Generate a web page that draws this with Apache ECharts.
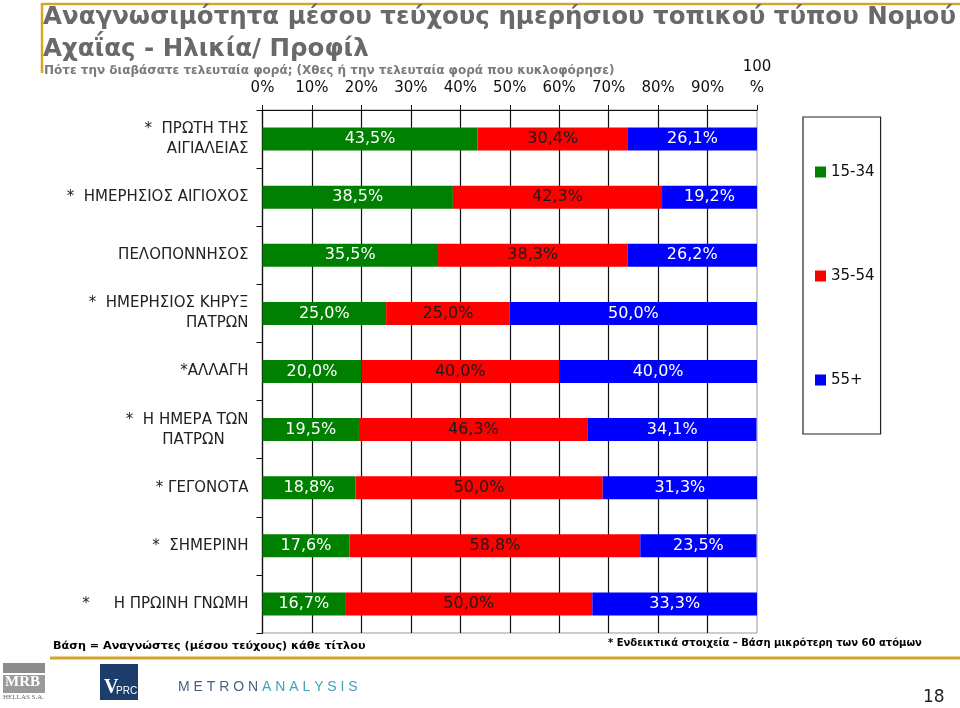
<!DOCTYPE html>
<html>
<head>
<meta charset="utf-8">
<script src="https://cdn.jsdelivr.net/npm/echarts@6/dist/echarts.min.js"></script>
<style>
  html, body { margin: 0; padding: 0; background: #fff; }
  #chart { width: 960px; height: 708px; }
</style>
</head>
<body>
<div id="chart"></div>
<script>
// ---- data ----
var categories = [
  '*  ΠΡΩΤΗ ΤΗΣ\nΑΙΓΙΑΛΕΙΑΣ',
  '*  ΗΜΕΡΗΣΙΟΣ ΑΙΓΙΟΧΟΣ',
  'ΠΕΛΟΠΟΝΝΗΣΟΣ',
  '*  ΗΜΕΡΗΣΙΟΣ ΚΗΡΥΞ\nΠΑΤΡΩΝ',
  '*ΑΛΛΑΓΗ',
  '*  Η ΗΜΕΡΑ ΤΩΝ\nΠΑΤΡΩΝ\u00a0\u00a0\u00a0\u00a0\u00a0',
  '* ΓΕΓΟΝΟΤΑ',
  '*  ΣΗΜΕΡΙΝΗ',
  '*     Η ΠΡΩΙΝΗ ΓΝΩΜΗ'
];
var seriesNames = ['15-34', '35-54', '55+'];
var age15_34 = [43.5, 38.5, 35.5, 25.0, 20.0, 19.5, 18.8, 17.6, 16.7];
var age35_54 = [30.4, 42.3, 38.3, 25.0, 40.0, 46.3, 50.0, 58.8, 50.0];
var age55plus = [26.1, 19.2, 26.2, 50.0, 40.0, 34.1, 31.3, 23.5, 33.3];
var xTickLabels = ['0%', '10%', '20%', '30%', '40%', '50%', '60%', '70%', '80%', '90%', '100\n%'];

var FONT = 'DejaVu Sans, Verdana, sans-serif';
var GOLD = '#D2A62C';

function fmt(p) { return p.value.toFixed(1).replace('.', ',') + '%'; }

function barSeries(name, data, color, labelColor) {
  return {
    name: name,
    type: 'bar',
    stack: 'total',
    data: data,
    barWidth: 23,
    itemStyle: { color: color },
    label: {
      show: true,
      position: 'inside',
      formatter: fmt,
      color: labelColor,
      fontFamily: FONT,
      fontSize: 16
    }
  };
}

var chart = echarts.init(document.getElementById('chart'));
chart.setOption({
  animation: false,
  backgroundColor: '#fff',
  grid: {
    left: 262.5, right: 203, top: 110, bottom: 75,
    show: true, borderColor: '#999', borderWidth: 1
  },
  legend: {
    orient: 'vertical',
    left: 803, top: 117,
    padding: [47, 6, 46, 12],
    itemGap: 88,
    itemWidth: 11, itemHeight: 11,
    icon: 'rect',
    borderColor: '#222', borderWidth: 1.2,
    data: seriesNames,
    textStyle: { fontFamily: FONT, fontSize: 15, color: '#111', lineHeight: 16 }
  },
  xAxis: {
    type: 'value',
    position: 'top',
    min: 0, max: 100, interval: 10,
    axisLine: { show: true, lineStyle: { color: '#111', width: 1 } },
    axisTick: { show: true, length: 5, lineStyle: { color: '#111' } },
    splitLine: { show: true, showMaxLine: false, lineStyle: { color: '#111', width: 1.2 } },
    axisLabel: {
      margin: 11,
      fontFamily: FONT, fontSize: 15, color: '#111', lineHeight: 21,
      formatter: function (v) { return xTickLabels[Math.round(v / 10)]; }
    }
  },
  yAxis: {
    type: 'category',
    inverse: true,
    data: categories,
    axisLine: { show: true, lineStyle: { color: '#111', width: 1.2 } },
    axisTick: { show: true, length: 6, lineStyle: { color: '#111' } },
    axisLabel: {
      margin: 14,
      fontFamily: FONT, fontSize: 15, color: '#222', lineHeight: 20, align: 'right'
    }
  },
  series: [
    barSeries(seriesNames[0], age15_34, '#008000', '#ffffff'),
    barSeries(seriesNames[1], age35_54, '#ff0000', '#1a1a1a'),
    barSeries(seriesNames[2], age55plus, '#0000ff', '#ffffff')
  ],
  graphic: [
    // gold frame lines
    { type: 'line', shape: { x1: 42, y1: 4, x2: 960, y2: 4 }, style: { stroke: GOLD, lineWidth: 2.5 } },
    { type: 'line', shape: { x1: 42, y1: 3, x2: 42, y2: 73 }, style: { stroke: GOLD, lineWidth: 2.5 } },
    { type: 'line', shape: { x1: 50, y1: 658, x2: 960, y2: 658 }, style: { stroke: GOLD, lineWidth: 3 } },
    // titles
    { type: 'text', left: 43, top: 5, style: { text: 'Αναγνωσιμότητα μέσου τεύχους ημερήσιου τοπικού τύπου Νομού', font: 'bold 24.5px ' + FONT, fill: '#696969' } },
    { type: 'text', left: 43, top: 37, style: { text: 'Αχαΐας - Ηλικία/ Προφίλ', font: 'bold 24.5px ' + FONT, fill: '#696969' } },
    { type: 'text', left: 44, top: 65, style: { text: 'Πότε την διαβάσατε τελευταία φορά; (Χθες ή την τελευταία φορά που κυκλοφόρησε)', font: 'bold 12px ' + FONT, fill: '#7a7a7a' } },
    // footnotes
    { type: 'text', left: 53, top: 641, style: { text: 'Βάση = Αναγνώστες (μέσου τεύχους) κάθε τίτλου', font: 'bold 11.2px ' + FONT, fill: '#000' } },
    { type: 'text', left: 608, top: 638, style: { text: '* Ενδεικτικά στοιχεία – Βάση μικρότερη των 60 ατόμων', font: 'bold 10px ' + FONT, fill: '#000' } },
    { type: 'text', left: 923, top: 689, style: { text: '18', font: '17px ' + FONT, fill: '#222' } },
    // MRB logo
    { type: 'rect', shape: { x: 3, y: 663, width: 42, height: 10 }, style: { fill: '#8c8c8c' } },
    { type: 'rect', shape: { x: 3, y: 675, width: 42, height: 18 }, style: { fill: '#9a9a9a' } },
    { type: 'text', left: 5, top: 675, style: { text: 'MRB', font: 'bold 15px Liberation Serif, serif', fill: '#ffffff' } },
    { type: 'text', left: 3, top: 694, style: { text: 'HELLAS S.A.', font: '7px Liberation Serif, serif', fill: '#666' } },
    // VPRC logo
    { type: 'rect', shape: { x: 100, y: 664, width: 38, height: 36 }, style: { fill: '#1d3d6b' } },
    { type: 'text', left: 104, top: 678, style: { text: 'V', font: 'bold 20px Liberation Serif, serif', fill: '#ffffff' } },
    { type: 'text', left: 116, top: 686, style: { text: 'PRC', font: '10px Liberation Sans, sans-serif', fill: '#ffffff' } },
    // METRONANALYSIS
    { type: 'text', left: 178, top: 680, style: {
        rich: {
          a: { fontFamily: 'Liberation Sans, sans-serif', fontSize: 14, fill: '#4a5f88' },
          b: { fontFamily: 'Liberation Sans, sans-serif', fontSize: 14, fill: '#3fa3b5' }
        },
        text: '{a|M E T R O N}{b| A N A L Y S I S}'
      } }
  ]
});
</script>
</body>
</html>
